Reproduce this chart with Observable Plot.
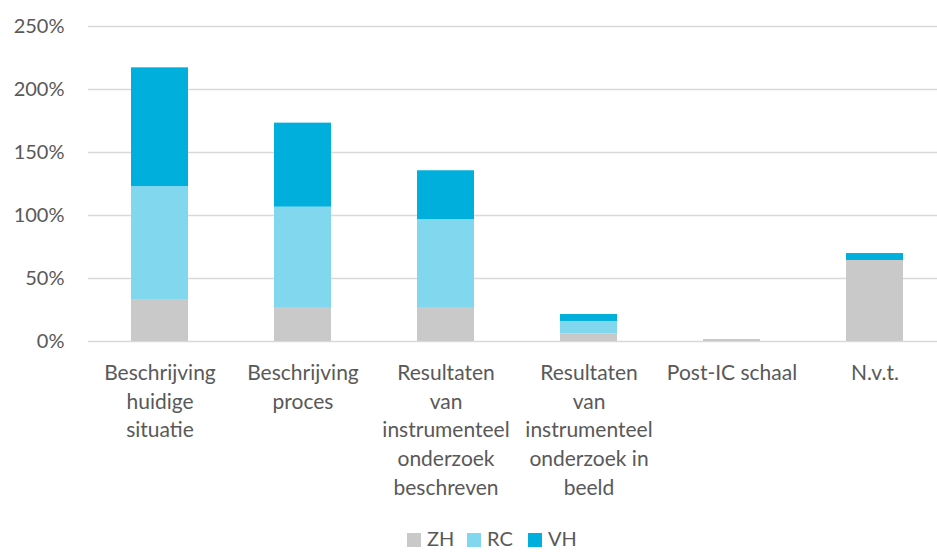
<!DOCTYPE html>
<html><head><meta charset="utf-8">
<script src="https://cdn.jsdelivr.net/npm/d3@7"></script>
<script src="https://cdn.jsdelivr.net/npm/@observablehq/plot@0.6"></script>
<style>
body{margin:0;background:#fff;font-family:Lato,"Open Sans",sans-serif;}
#legend{position:relative;height:30px;font-size:20px;color:#595959;}
#legend div{position:absolute;top:5px;line-height:22px;white-space:nowrap}
#legend span.sw{display:inline-block;width:14px;height:14px;margin-right:6px;vertical-align:-1px}
</style></head><body>
<div id="chart"></div>
<div id="legend"></div>
<script>
const categories = ["Beschrijving huidige situatie","Beschrijving proces","Resultaten van instrumenteel onderzoek beschreven","Resultaten van instrumenteel onderzoek in beeld","Post-IC schaal","N.v.t."];
const categoryLabels = ["Beschrijving\nhuidige\nsituatie","Beschrijving\nproces","Resultaten\nvan\ninstrumenteel\nonderzoek\nbeschreven","Resultaten\nvan\ninstrumenteel\nonderzoek in\nbeeld","Post-IC schaal","N.v.t."];
const series = ["ZH","RC","VH"];
const ZH = [33.3, 27.0, 27.0, 6.1, 1.6, 64.3];
const RC = [89.7, 79.6, 69.8, 9.8, 0, 0];
const VH = [94.2, 66.7, 38.7, 5.5, 0, 5.5];
const yTicks = [0, 50, 100, 150, 200, 250];
const colors = ["#c9c9c9", "#80d7ee", "#00afdb"];

const values = {ZH, RC, VH};
const data = [];
series.forEach(s => categories.forEach((c, i) => data.push({category: c, series: s, value: values[s][i]})));

const W = 937, H = 522;
const chart = Plot.plot({
  width: W, height: H,
  marginLeft: 88, marginRight: 0, marginTop: 26, marginBottom: H - 341,
  style: {fontFamily: "Lato, 'Open Sans', sans-serif", fontSize: "21px", color: "#595959", background: "#fff"},
  x: {domain: categories, range: [88, 946], paddingInner: 0.6, paddingOuter: 0.3, label: null},
  y: {domain: [0, 250], label: null},
  color: {domain: series, range: colors},
  marks: [
    Plot.ruleY(yTicks, {stroke: "#d9d9d9", strokeWidth: 1.3}),
    Plot.barY(data, {x: "category", y: "value", fill: "series", order: series}),
    Plot.axisY({ticks: yTicks, tickFormat: d => d + "%", tickSize: 0, tickPadding: 24, fontSize: 20, fill: "#595959"}),
    Plot.axisX({tickSize: 0, tickPadding: 18, fontSize: 21, fill: "#595959", lineHeight: 1.37,
      tickFormat: d => categoryLabels[categories.indexOf(d)]})
  ]
});
document.getElementById("chart").appendChild(chart);
const lg = document.getElementById("legend");
const legendX = [407, 467, 528];
series.forEach((s, i) => {
  const d = document.createElement("div");
  d.style.left = legendX[i] + "px";
  d.innerHTML = `<span class="sw" style="background:${colors[i]}"></span>${s}`;
  lg.appendChild(d);
});
</script>
</body></html>
